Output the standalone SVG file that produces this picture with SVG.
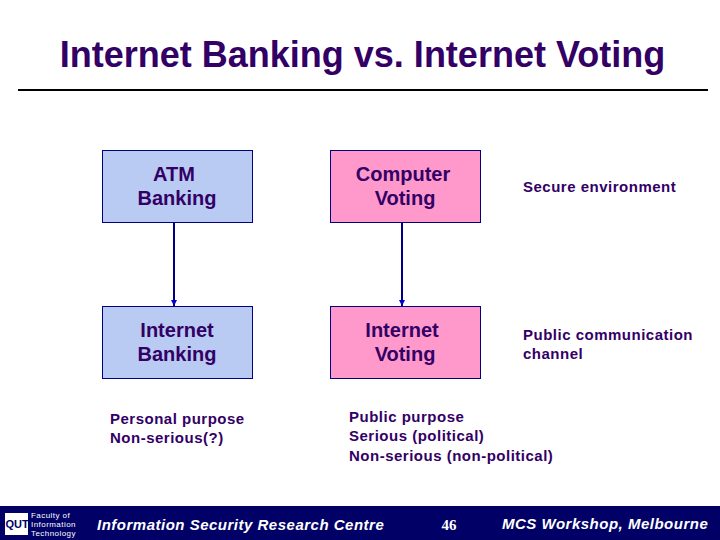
<svg xmlns="http://www.w3.org/2000/svg" width="720" height="540" viewBox="0 0 720 540">
<defs>
<marker id="arr" markerUnits="userSpaceOnUse" markerWidth="7" markerHeight="7" refX="6" refY="3" orient="auto"><path d="M0 0L6 3L0 6Z" fill="#0000cc"/></marker>
</defs>
<style>
text{font-family:"Liberation Sans",Arial,sans-serif}
.box{stroke:#000080;stroke-width:1}
.blue{fill:#b9cbf2}
.pink{fill:#ff99cc}
.n{font-size:20px;font-weight:bold;fill:#330066;text-anchor:middle}
.s{font-size:15px;font-weight:bold;fill:#330066;letter-spacing:.5px}
.f{font-size:15px;fill:#fff;font-style:italic;font-weight:bold;letter-spacing:.5px}
.l{font-size:8px;fill:#fff;letter-spacing:.45px}
</style>
<rect width="720" height="540" fill="#fff"/>
<g id="title">
<text x="362.500" y="67" font-weight="bold" fill="#330066" text-anchor="middle" style="font-size:36px">Internet Banking vs. Internet Voting</text>
<line x1="18" y1="90" x2="708" y2="90" stroke="#000" stroke-width="2"/>
</g>
<g id="connectors">
<line x1="174" y1="222" x2="174" y2="306" stroke="#000080" stroke-width="2" marker-end="url(#arr)"/>
<line x1="402" y1="222" x2="402" y2="306" stroke="#000080" stroke-width="2" marker-end="url(#arr)"/>
</g>
<g id="atm"><rect class="box blue" x="102.500" y="150.500" width="150" height="72"/><text class="n" x="174" y="181">ATM</text><text class="n" x="177" y="205">Banking</text></g>
<g id="computer"><rect class="box pink" x="330.500" y="150.500" width="150" height="72"/><text class="n" x="403" y="181">Computer</text><text class="n" x="405" y="205">Voting</text></g>
<g id="ibank"><rect class="box blue" x="102.500" y="306.500" width="150" height="72"/><text class="n" x="177" y="337">Internet</text><text class="n" x="177" y="361">Banking</text></g>
<g id="ivote"><rect class="box pink" x="330.500" y="306.500" width="150" height="72"/><text class="n" x="402" y="337">Internet</text><text class="n" x="405" y="361">Voting</text></g>
<g id="labels">
<text class="s" x="523" y="192">Secure environment</text>
<text class="s" x="523" y="340">Public communication</text>
<text class="s" x="523" y="359">channel</text>
<text class="s" x="110" y="424">Personal purpose</text>
<text class="s" x="110" y="443">Non-serious(?)</text>
<text class="s" x="349" y="422">Public purpose</text>
<text class="s" x="349" y="441">Serious (political)</text>
<text class="s" x="349" y="461">Non-serious (non-political)</text>
</g>
<g id="footer">
<rect x="0" y="506" width="720" height="34" fill="#000066"/>
<rect x="5" y="513" width="23" height="22" fill="#fff"/>
<text x="5.500" y="528" font-weight="bold" fill="#000066" style="font-size:11px">QUT</text>
<text class="l" x="31" y="518">Faculty of</text>
<text class="l" x="31" y="527">Information</text>
<text class="l" x="31" y="536">Technology</text>
<text class="f" x="97" y="530">Information Security Research Centre</text>
<text x="449" y="530" fill="#fff" font-weight="bold" text-anchor="middle" style="font-family:'Liberation Serif',serif;font-size:15px">46</text>
<text class="f" x="502" y="529">MCS Workshop, Melbourne</text>
</g>
</svg>
